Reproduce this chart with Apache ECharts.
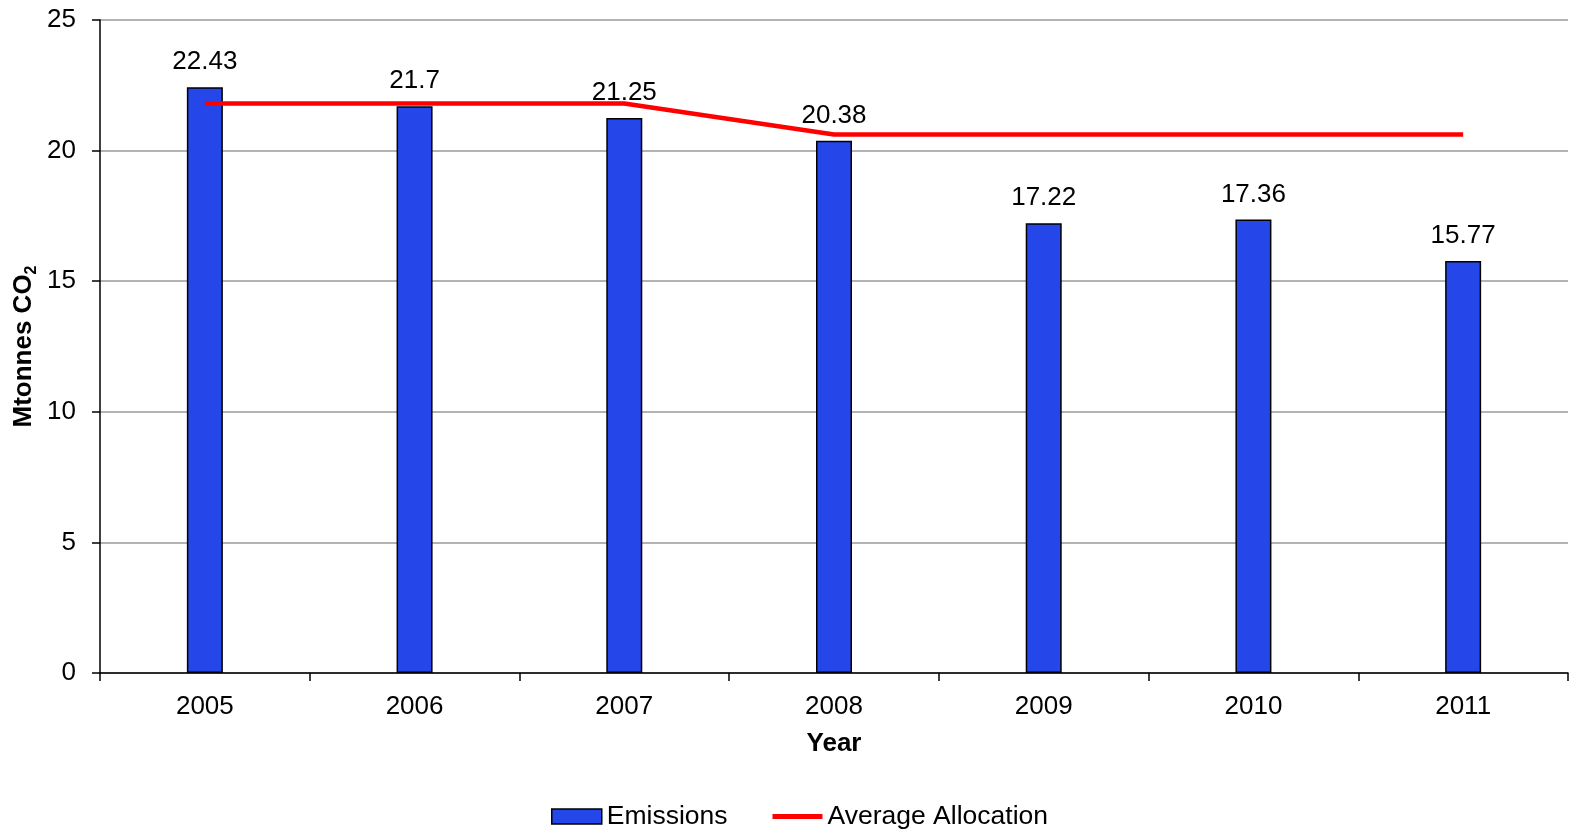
<!DOCTYPE html>
<html>
<head>
<meta charset="utf-8">
<script src="https://cdn.jsdelivr.net/npm/echarts@6/dist/echarts.min.js"></script>
<style>
html,body{margin:0;padding:0;background:#fff;}
#chart{width:1573px;height:835px;}
</style>
</head>
<body>
<div id="chart"></div>
<script>
var years = ['2005','2006','2007','2008','2009','2010','2011'];
var emissions = [22.43, 21.7, 21.25, 20.38, 17.22, 17.36, 15.77];
var averageAllocation = [21.8, 21.8, 21.8, 20.62, 20.62, 20.62, 20.62];
var yTicks = [0, 5, 10, 15, 20, 25];

var chart = echarts.init(document.getElementById('chart'));
var font = 'Liberation Sans, Arial, sans-serif';
chart.setOption({
  animation: false,
  textStyle: {fontFamily: font},
  grid: {left: 100, right: 5, top: 20, bottom: 162, containLabel: false, outerBoundsMode: 'none'},
  legend: {
    bottom: 0,
    left: 546,
    itemWidth: 50,
    itemHeight: 15,
    itemGap: 45,
    textStyle: {fontSize: 26.5, color: '#000', fontFamily: font},
    data: [
      {name: 'Emissions', icon: 'rect', itemStyle: {color: '#2546E8', borderColor: '#000', borderWidth: 1.5}},
      {name: 'Average Allocation', icon: 'path://M0,0 L50,0 L50,5 L0,5 Z', itemStyle: {color: '#FF0000'}}
    ]
  },
  xAxis: {
    type: 'category',
    data: years,
    name: 'Year',
    nameLocation: 'middle',
    nameGap: 58,
    nameMoveOverlap: false,
    nameTextStyle: {fontSize: 26, fontWeight: 'bold', color: '#000', fontFamily: font},
    axisLine: {lineStyle: {color: '#000', width: 1.5}},
    axisTick: {show: true, alignWithLabel: false, length: 8, lineStyle: {color: '#000', width: 1.5}},
    axisLabel: {fontSize: 26, color: '#000', margin: 21, fontFamily: font},
    splitLine: {show: false}
  },
  yAxis: {
    type: 'value',
    min: yTicks[0],
    max: yTicks[yTicks.length - 1],
    interval: 5,
    name: '{b|Mtonnes CO}{s|2}',
    nameLocation: 'middle',
    nameGap: 60,
    nameMoveOverlap: false,
    nameRotate: 90,
    nameTextStyle: {
      rich: {
        b: {fontSize: 26, fontWeight: 'bold', color: '#000', fontFamily: font},
        s: {fontSize: 16, fontWeight: 'bold', color: '#000', fontFamily: font, padding: [16, 0, 0, 0]}
      }
    },
    axisLine: {show: true, lineStyle: {color: '#000', width: 1.5}},
    axisTick: {show: true, inside: false, length: 8, lineStyle: {color: '#000', width: 1.5}},
    axisLabel: {fontSize: 26, color: '#000', margin: 24, fontFamily: font},
    splitLine: {show: true, lineStyle: {color: '#9a9a9a', width: 1.5}}
  },
  series: [
    {
      name: 'Emissions',
      type: 'bar',
      data: emissions,
      barWidth: 36,
      itemStyle: {color: '#2546E8', borderColor: '#000', borderWidth: 1.5},
      label: {show: true, position: 'top', distance: 12, fontSize: 26, color: '#000', fontFamily: font},
      z: 2
    },
    {
      name: 'Average Allocation',
      type: 'line',
      data: averageAllocation,
      symbol: 'none',
      lineStyle: {color: '#FF0000', width: 4.5},
      itemStyle: {color: '#FF0000'},
      z: 3
    }
  ]
});
</script>
</body>
</html>
